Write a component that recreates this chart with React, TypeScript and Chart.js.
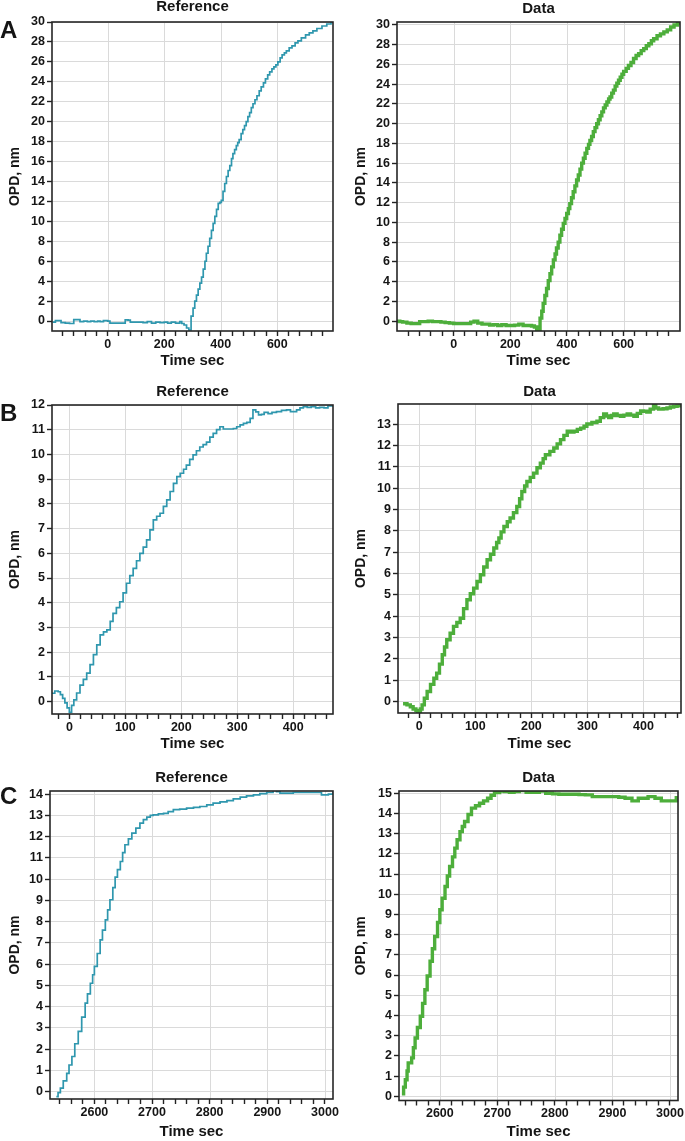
import { useEffect, useRef } from "react";
import { Chart, registerables } from "chart.js";
Chart.register(...registerables);

// ---------- DATA ----------
// Panel A
const refAX = [-195,-185,-175,-165,-150,-135,-120,-110,-98,-85,-72,-60,-48,-35,-27,-15,0,8,20,40,55,62,72,80,95,110,125,140,155,170,185,200,212,225,240,255,262,270,279,287,295,302,308,314,320,326,332,338,344,349,355,361,367,373,379,385,391,397,402,408,414,420,426,432,438,443,449,455,460,465,472,478,484,490,496,502,508,514,521,528,536,543,551,558,566,573,581,588,595,602,610,617,625,632,642,652,663,673,685,700,713,726,740,758,775,790,797];
const refAY = [-0.1,0.05,0.05,-0.15,-0.2,-0.25,0.15,0.15,-0.05,0,-0.05,0,-0.05,0,-0.05,0.05,0,-0.2,-0.2,-0.2,-0.2,0.12,0.1,-0.1,-0.1,-0.1,-0.15,-0.05,-0.2,-0.1,-0.15,-0.1,-0.2,-0.1,-0.2,-0.05,-0.25,-0.4,-0.7,-0.9,0.5,1.3,2.0,2.6,3.2,3.8,4.4,5.2,6.0,6.8,7.5,8.3,9.1,9.8,10.5,11.2,11.8,11.9,12.1,13.0,13.8,14.5,15.1,15.6,16.3,16.8,17.2,17.6,17.9,18.2,18.8,19.2,19.6,20.0,20.5,20.9,21.4,21.8,22.2,22.6,23.1,23.5,23.9,24.3,24.7,25.0,25.3,25.5,25.7,26.0,26.4,26.7,26.9,27.1,27.4,27.6,27.9,28.1,28.4,28.7,28.9,29.1,29.35,29.6,29.8,29.95,30.0];
const datAX = [-200,-190,-180,-165,-150,-135,-120,-105,-90,-75,-60,-45,-30,-15,0,15,30,45,60,72,85,100,115,127,140,155,170,185,200,215,230,245,260,275,285,293,299,305,311,316,322,328,334,340,346,352,358,363,369,375,381,387,393,399,405,410,416,422,428,434,440,446,452,458,464,470,476,481,487,493,499,505,511,517,523,529,535,541,547,552,558,564,570,576,582,588,594,600,609,617,626,635,644,653,662,671,680,689,698,706,718,730,742,754,766,778,790,799];
const datAY = [0,-0.05,-0.1,-0.2,-0.25,-0.25,-0.05,-0.05,0,-0.05,-0.05,-0.1,-0.15,-0.2,-0.25,-0.25,-0.25,-0.25,-0.1,0,-0.2,-0.3,-0.3,-0.4,-0.35,-0.45,-0.35,-0.45,-0.45,-0.4,-0.3,-0.45,-0.45,-0.5,-0.6,-0.85,-0.98,0.3,1.0,1.8,2.6,3.3,4.1,4.8,5.5,6.2,6.8,7.4,8.0,8.7,9.3,9.9,10.4,10.9,11.4,11.9,12.5,13.1,13.7,14.3,14.8,15.4,16.0,16.5,17.0,17.5,17.9,18.3,18.7,19.2,19.6,20.0,20.4,20.8,21.2,21.6,21.9,22.2,22.5,22.7,23.1,23.4,23.8,24.1,24.4,24.7,25.0,25.3,25.6,25.9,26.2,26.6,26.9,27.1,27.4,27.6,27.9,28.1,28.4,28.6,28.9,29.1,29.3,29.5,29.8,30.0,30.2,30.3];

// Panel B
const refBX = [-31,-26,-20,-16,-12,-8,-4,0,4,8,13,19,25,31,37,43,49,55,61,67,73,78,84,90,96,102,108,114,120,126,132,138,144,150,156,162,168,174,180,186,192,198,204,209,215,221,227,233,239,245,251,257,263,269,275,284,293,299,305,311,317,323,328,333,338,343,348,355,362,370,379,388,395,400,406,412,418,425,432,440,447,455,462,471];
const refBY = [0.34,0.43,0.4,0.28,0.13,-0.05,-0.25,-0.43,-0.15,0.07,0.35,0.67,0.9,1.15,1.5,1.9,2.3,2.7,2.82,2.9,3.25,3.57,3.8,4.04,4.4,4.79,5.1,5.39,5.7,6.0,6.25,6.54,6.95,7.35,7.5,7.62,7.9,8.16,8.5,8.83,9.1,9.24,9.4,9.57,9.8,9.98,10.15,10.3,10.4,10.5,10.7,10.85,11.0,11.12,11.03,11.03,11.05,11.12,11.2,11.26,11.3,11.46,11.8,11.72,11.6,11.62,11.7,11.65,11.7,11.73,11.78,11.8,11.73,11.73,11.8,11.88,11.93,11.9,11.93,11.88,11.9,11.88,11.96,12.03];
const datBX = [-29,-22,-16,-11,-6,-3,2,5,9,14,20,26,31,36,41,45,49,55,61,67,73,79,85,91,97,103,109,115,121,127,133,138,142,146,151,157,162,168,174,179,183,188,192,198,204,210,216,221,225,233,240,246,252,258,264,270,276,282,288,294,299,308,317,323,329,334,338,343,347,353,359,365,371,377,383,389,395,400,406,412,418,422,427,435,442,448,454,460,467];
const datBY = [-0.11,-0.16,-0.25,-0.35,-0.42,-0.47,-0.35,-0.16,0.15,0.47,0.8,1.09,1.33,1.75,2.19,2.55,2.89,3.2,3.52,3.7,3.9,4.35,4.77,5.05,5.31,5.62,5.94,6.3,6.64,6.9,7.19,7.45,7.66,7.95,8.2,8.42,8.6,8.85,9.14,9.5,9.84,10.1,10.31,10.5,10.7,10.95,11.17,11.38,11.56,11.72,11.88,12.07,12.27,12.47,12.66,12.62,12.66,12.75,12.81,12.9,13.0,13.07,13.13,13.3,13.47,13.38,13.31,13.4,13.47,13.4,13.36,13.42,13.47,13.42,13.36,13.5,13.62,13.6,13.56,13.7,13.86,13.75,13.7,13.72,13.75,13.8,13.83,13.85,13.87];

// Panel C
const refCX = [2534,2537,2541,2546,2552,2556,2561,2566,2572,2578,2584,2588,2593,2597,2600,2605,2610,2614,2619,2623,2627,2632,2636,2640,2645,2649,2653,2659,2665,2672,2679,2685,2691,2697,2702,2711,2720,2728,2737,2748,2760,2772,2783,2795,2806,2818,2830,2841,2853,2864,2876,2887,2899,2910,2916,2922,2933,2945,2957,2968,2980,2986,2994,3000,3006,3014];
const refCY = [-0.24,-0.05,0.16,0.5,0.86,1.25,1.65,2.25,2.83,3.5,4.16,4.6,5.1,5.5,5.89,6.5,7.14,7.6,8.08,8.55,9.03,9.6,10.1,10.45,10.83,11.25,11.62,11.9,12.17,12.4,12.64,12.8,12.92,13.0,13.03,13.07,13.1,13.18,13.27,13.3,13.34,13.38,13.42,13.5,13.58,13.64,13.7,13.78,13.86,13.92,13.97,14.03,14.08,14.18,14.12,14.05,14.05,14.08,14.08,14.08,14.08,14.08,13.97,13.97,14.0,14.13];
const datCX = [2534,2537,2540,2543,2545,2551,2554,2557,2561,2566,2570,2574,2578,2583,2587,2591,2596,2600,2604,2609,2613,2617,2622,2626,2630,2635,2639,2643,2649,2655,2662,2669,2676,2683,2689,2695,2704,2712,2721,2729,2738,2750,2761,2773,2784,2796,2807,2819,2830,2842,2853,2865,2882,2899,2911,2922,2934,2945,2962,2974,2985,2994,3003,3011,3014];
const datCY = [0.12,0.45,0.82,1.25,1.65,1.9,2.4,2.88,3.4,3.96,4.6,5.27,5.95,6.68,7.3,7.91,8.6,9.23,9.8,10.38,10.9,11.37,11.85,12.28,12.7,13.1,13.35,13.6,13.95,14.26,14.38,14.5,14.62,14.75,14.9,15.03,15.11,15.08,15.05,15.08,15.13,15.05,15.05,15.11,15.0,14.97,14.95,14.95,14.95,14.93,14.92,14.83,14.83,14.83,14.8,14.75,14.62,14.75,14.83,14.75,14.62,14.62,14.62,14.78,14.78];

// Tick values (all x ticks get a tick mark; only the labelled ones get a label and a grid line)
const xTicksA = [-160,-120,-80,-40,0,40,80,120,160,200,240,280,320,360,400,440,480,520,560,600,640,680,720,760];
const xLabelsA = [0,200,400,600];
const xTicksB = [-20,0,20,40,60,80,100,120,140,160,180,200,220,240,260,280,300,320,340,360,380,400,420,440,460];
const xLabelsB = [0,100,200,300,400];
const xTicksC = [2540,2560,2580,2600,2620,2640,2660,2680,2700,2720,2740,2760,2780,2800,2820,2840,2860,2880,2900,2920,2940,2960,2980,3000];
const xLabelsC = [2600,2700,2800,2900,3000];
const yTicksA = [0,2,4,6,8,10,12,14,16,18,20,22,24,26,28,30];
const yTicksBRef = [0,1,2,3,4,5,6,7,8,9,10,11,12];
const yTicksBDat = [0,1,2,3,4,5,6,7,8,9,10,11,12,13];
const yTicksCRef = [0,1,2,3,4,5,6,7,8,9,10,11,12,13,14];
const yTicksCDat = [0,1,2,3,4,5,6,7,8,9,10,11,12,13,14,15];

const REF_COLOR = "#2f97ae";
const DAT_COLOR = "#4dae3b";
const FONT = '"Liberation Sans", Arial, Helvetica, sans-serif';
const TEXT = "#151515";
const GRID = "#dadada";

type Cfg = {
  key: string; x: number; y: number; w: number; h: number;
  area: { l: number; t: number; r: number; b: number };
  xTitleY: number; titleY: number; yTitleX: number;
  title: string; letter?: string; letterY?: number;
  xs: number[]; ys: number[]; color: string; lw: number;
  xMin: number; xMax: number; yMin: number; yMax: number;
  xTicks: number[]; xLabels: number[]; yTicks: number[];
};

const panels: Cfg[] = [
  { key: "aL", x: 0, y: 0, w: 342, h: 375, area: { l: 52, t: 22, r: 333, b: 331 }, xTitleY: 361, titleY: 7, yTitleX: 15.5,
    title: "Reference", letter: "A", letterY: 31, xs: refAX, ys: refAY, color: REF_COLOR, lw: 1.7,
    xMin: -197, xMax: 797, yMin: -1.0, yMax: 30, xTicks: xTicksA, xLabels: xLabelsA, yTicks: yTicksA },
  { key: "aR", x: 342, y: 0, w: 343, h: 375, area: { l: 55, t: 22, r: 338, b: 331 }, xTitleY: 361, titleY: 9, yTitleX: 19.3,
    title: "Data", xs: datAX, ys: datAY, color: DAT_COLOR, lw: 3.4,
    xMin: -200, xMax: 799, yMin: -1.0, yMax: 30.3, xTicks: xTicksA, xLabels: xLabelsA, yTicks: yTicksA },
  { key: "bL", x: 0, y: 375, w: 342, h: 385, area: { l: 52, t: 30, r: 333, b: 339 }, xTitleY: 369, titleY: 16.5, yTitleX: 15.3,
    title: "Reference", letter: "B", letterY: 39, xs: refBX, ys: refBY, color: REF_COLOR, lw: 1.7,
    xMin: -31, xMax: 471, yMin: -0.5, yMax: 12, xTicks: xTicksB, xLabels: xLabelsB, yTicks: yTicksBRef },
  { key: "bR", x: 342, y: 375, w: 343, h: 385, area: { l: 56, t: 29, r: 339, b: 338 }, xTitleY: 369, titleY: 16.5, yTitleX: 19.3,
    title: "Data", xs: datBX, ys: datBY, color: DAT_COLOR, lw: 3.4,
    xMin: -38, xMax: 467, yMin: -0.54, yMax: 13.94, xTicks: xTicksB, xLabels: xLabelsB, yTicks: yTicksBDat },
  { key: "cL", x: 0, y: 760, w: 342, h: 381, area: { l: 50, t: 31, r: 333, b: 339 }, xTitleY: 372, titleY: 18, yTitleX: 15,
    title: "Reference", letter: "C", letterY: 37.5, xs: refCX, ys: refCY, color: REF_COLOR, lw: 1.7,
    xMin: 2523, xMax: 3014, yMin: -0.35, yMax: 14.15, xTicks: xTicksC, xLabels: xLabelsC, yTicks: yTicksCRef },
  { key: "cR", x: 342, y: 760, w: 343, h: 381, area: { l: 57, t: 31, r: 338, b: 341 }, xTitleY: 372.5, titleY: 18, yTitleX: 19.3,
    title: "Data", xs: datCX, ys: datCY, color: DAT_COLOR, lw: 3.4,
    xMin: 2529, xMax: 3014, yMin: -0.21, yMax: 15.11, xTicks: xTicksC, xLabels: xLabelsC, yTicks: yTicksCDat },
];

const panelDecor = {
  id: "panelDecor",
  beforeDatasetsDraw(chart: any, _args: any, opts: any) {
    // vertical grid lines only at labelled x values
    const { ctx, chartArea } = chart;
    const sx = chart.scales.x;
    ctx.save();
    ctx.strokeStyle = GRID;
    ctx.lineWidth = 1;
    for (const v of opts.gridX as number[]) {
      const px = Math.round(sx.getPixelForValue(v)) + 0.5;
      ctx.beginPath();
      ctx.moveTo(px, chartArea.top);
      ctx.lineTo(px, chartArea.bottom);
      ctx.stroke();
    }
    ctx.restore();
  },
  afterDraw(chart: any, _args: any, opts: any) {
    const { ctx, chartArea } = chart;
    ctx.save();
    ctx.strokeStyle = "#262626";
    ctx.lineWidth = 1.6;
    ctx.strokeRect(chartArea.left, chartArea.top, chartArea.right - chartArea.left, chartArea.bottom - chartArea.top);
    ctx.fillStyle = TEXT;
    ctx.textBaseline = "middle";
    ctx.textAlign = "center";
    ctx.font = `bold 15px ${FONT}`;
    ctx.fillText(opts.title, (chartArea.left + chartArea.right) / 2, opts.titleY);
    if (opts.letter) {
      ctx.textAlign = "left";
      ctx.font = `bold 24px ${FONT}`;
      ctx.fillText(opts.letter, 0, opts.letterY);
    }
    ctx.restore();
  },
};

function PanelChart({ cfg }: { cfg: Cfg }) {
  const ref = useRef<HTMLCanvasElement | null>(null);
  useEffect(() => {
    if (!ref.current) return;
    const xTitleHalf = 9; // 15px * 1.2 / 2
    const xAxisH = cfg.xTitleY - cfg.area.b + xTitleHalf;
    const padBottom = Math.max(0, cfg.h - cfg.area.b - xAxisH);
    const yTitleLine = 14 * 1.2;
    const tickFont = { family: FONT, size: 12.5, weight: "bold" as const };
    const chart = new Chart(ref.current, {
      type: "line",
      data: {
        datasets: [
          {
            data: cfg.xs.map((x, i) => ({ x, y: cfg.ys[i] })),
            borderColor: cfg.color,
            borderWidth: cfg.lw,
            pointRadius: 0,
            stepped: true,
            fill: false,
          },
        ],
      },
      options: {
        animation: false,
        responsive: false,
        maintainAspectRatio: false,
        events: [],
        layout: { padding: { left: 0, top: cfg.area.t, right: cfg.w - cfg.area.r, bottom: padBottom } },
        plugins: {
          legend: { display: false },
          tooltip: { enabled: false },
          title: { display: false },
          // @ts-ignore
          panelDecor: { title: cfg.title, titleY: cfg.titleY, letter: cfg.letter, letterY: cfg.letterY, gridX: cfg.xLabels },
        },
        scales: {
          x: {
            type: "linear",
            min: cfg.xMin,
            max: cfg.xMax,
            afterBuildTicks: (s: any) => { s.ticks = cfg.xTicks.map((v) => ({ value: v })); },
            afterFit: (s: any) => { s.height = xAxisH; },
            grid: {
              drawOnChartArea: false,
              drawTicks: true,
              tickColor: "#222",
              tickLength: 5,
              tickWidth: 1.4,
            },
            border: { display: false },
            ticks: {
              autoSkip: false,
              maxRotation: 0,
              padding: 1,
              color: TEXT,
              font: tickFont,
              callback: (v: any) => (cfg.xLabels.includes(Number(v)) ? String(v) : ""),
            },
            title: { display: true, text: "Time sec", color: TEXT, font: { family: FONT, size: 15, weight: "bold" }, padding: { top: 0, bottom: 0 } },
          },
          y: {
            type: "linear",
            min: cfg.yMin,
            max: cfg.yMax,
            afterBuildTicks: (s: any) => { s.ticks = cfg.yTicks.map((v) => ({ value: v })); },
            afterFit: (s: any) => { s.width = cfg.area.l; },
            grid: { color: GRID, tickColor: "#222", tickLength: 5, lineWidth: 1, tickWidth: 1.4 },
            border: { display: false },
            ticks: { autoSkip: false, padding: 2, color: TEXT, font: tickFont, callback: (v: any) => String(v) },
            title: {
              display: true, text: "OPD, nm", color: TEXT,
              font: { family: FONT, size: 14, weight: "bold" },
              padding: { top: cfg.yTitleX - yTitleLine / 2, bottom: 0 },
            },
          },
        },
      },
      plugins: [panelDecor as any],
    });
    return () => chart.destroy();
  }, [cfg]);
  return (
    <canvas
      ref={ref}
      width={cfg.w}
      height={cfg.h}
      style={{ position: "absolute", left: cfg.x, top: cfg.y, width: cfg.w, height: cfg.h }}
    />
  );
}

export default function App() {
  return (
    <div style={{ position: "absolute", left: 0, top: 0, width: 685, height: 1141, background: "#fff", overflow: "hidden" }}>
      {panels.map((p) => (
        <PanelChart key={p.key} cfg={p} />
      ))}
    </div>
  );
}
